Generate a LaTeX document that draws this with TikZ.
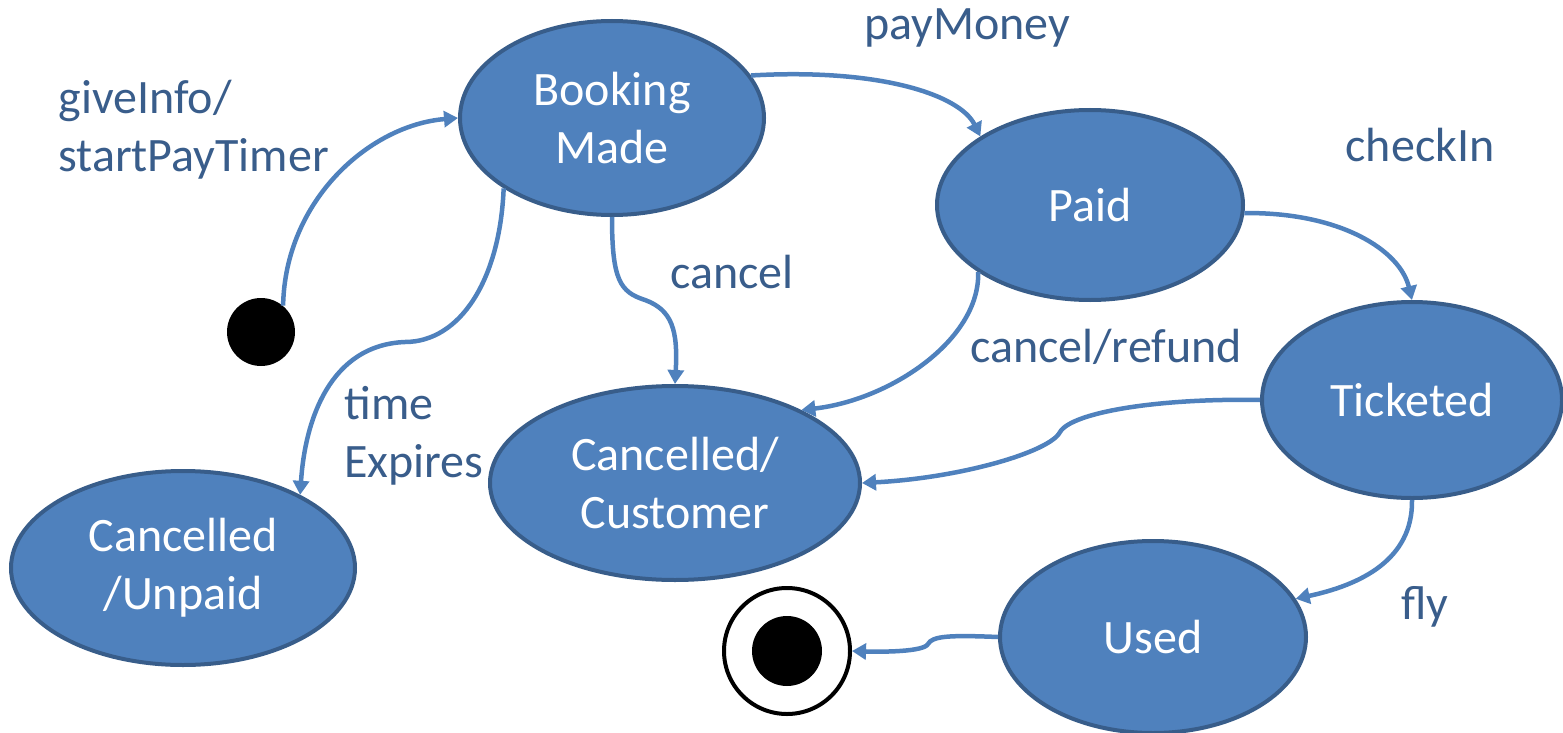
\documentclass[tikz,border=0pt]{standalone}
\usepackage{fontspec}
\setmainfont{Carlito}
\usetikzlibrary{shapes.geometric,arrows.meta}

\definecolor{stfill}{HTML}{4F81BD}
\definecolor{stline}{HTML}{385D8A}
\definecolor{evtext}{HTML}{395D8B}

\begin{document}
\begin{tikzpicture}
  [x=0.5pt,y=-0.5pt,
   state/.style={ellipse,fill=stfill,draw=stline,line width=2pt,inner sep=0pt,
     text=white,align=center,font=\fontsize{24}{29}\selectfont},
   evt/.style={text=evtext,align=left,inner sep=0pt,font=\fontsize{24}{29}\selectfont},
   trans/.style={draw=stfill,line width=2.25pt,-{Triangle[width=8pt,length=7pt]}}]
  \useasboundingbox (0,0) rectangle (1563,733);

  % states
  \node[state,minimum width=152pt,minimum height=97pt] (bm) at (612,118) {Booking\\Made};
  \node[state,minimum width=153pt,minimum height=95pt] (paid) at (1090,205) {Paid};
  \node[state,minimum width=150pt,minimum height=98pt] (tick) at (1412,400) {Ticketed};
  \node[state,minimum width=185pt,minimum height=97pt] (cc) at (675,483) {Cancelled/\\Customer};
  \node[state,minimum width=172pt,minimum height=97pt] (cu) at (183,568) {Cancelled\\/Unpaid};
  \node[state,minimum width=153pt,minimum height=96pt] (used) at (1153,637) {Used};

  % start and end
  \node[circle,fill=black,minimum size=34pt,inner sep=0pt] (init) at (261,332) {};
  \node[circle,draw=black,fill=white,line width=2pt,minimum size=63pt,inner sep=0pt] (final) at (787,651) {};
  \node[circle,fill=black,minimum size=35pt,inner sep=0pt] (finaldot) at (787,651) {};

  % events
  \node[evt,anchor=west] (e1) at (58,130) {giveInfo/\\startPayTimer};
  \node[evt] (e2) at (967,28) {payMoney};
  \node[evt] (e3) at (1420,145) {checkIn};
  \node[evt] (e4) at (732,272) {cancel};
  \node[evt] (e5) at (1106,347) {cancel/refund};
  \node[evt,anchor=west] (e6) at (344,436) {time\\Expires};
  \node[evt] (e7) at (1425,607) {fly};

  % transitions
  \draw[trans] (init.50) .. controls (285,200) and (370,125) .. (bm.west);
  \draw[trans] (bm.17) .. controls (880,68) and (960,95) .. (paid.148);
  \draw[trans] (paid.357) .. controls (1340,212) and (1400,250) .. (tick.north);
  \draw[trans] (bm.south) .. controls (612,280) and (620,292) .. (645,300)
    .. controls (672,310) and (678,330) .. (cc.north);
  \draw[trans] (paid.211) .. controls (980,340) and (890,400) .. (cc.30);
  \draw[trans] (bm.213) .. controls (500,280) and (460,342) .. (405,342)
    .. controls (330,345) and (305,420) .. (cu.32);
  \draw[trans] (tick.west) .. controls (1160,398) and (1072,412) .. (1060,432)
    .. controls (1050,452) and (960,478) .. (cc.east);
  \draw[trans] (tick.south) .. controls (1413,560) and (1360,585) .. (used.15);
  \draw[trans] (used.west) .. controls (950,635) and (932,636) .. (928,644)
    .. controls (924,652) and (880,652) .. (final.east);
\end{tikzpicture}
\end{document}
